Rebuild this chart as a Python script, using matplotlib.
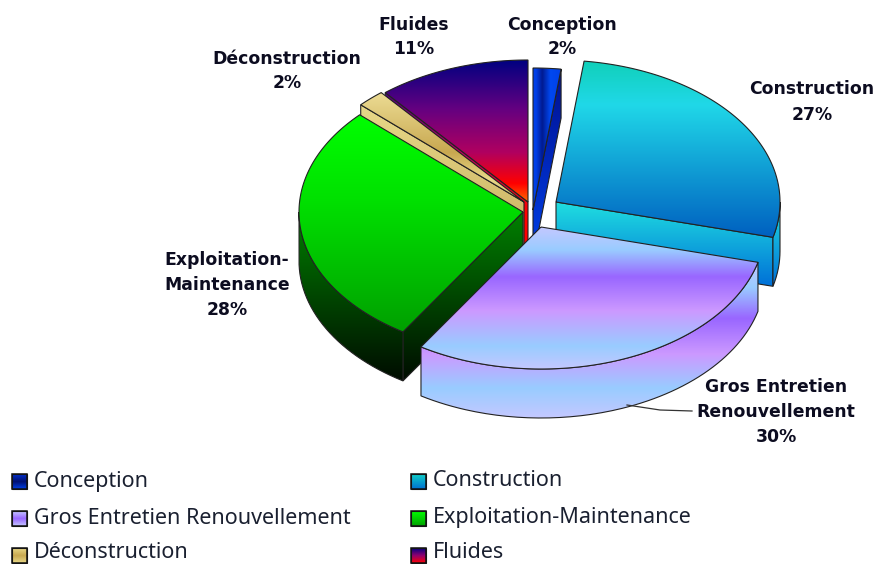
import numpy as np
import matplotlib
matplotlib.use('Agg')
import matplotlib.pyplot as plt
from matplotlib.colors import LinearSegmentedColormap
from matplotlib.patches import PathPatch, Rectangle
from matplotlib.path import Path

# values of the chart
categories = ['Conception', 'Construction', 'Gros Entretien Renouvellement',
              'Exploitation-Maintenance', 'Déconstruction', 'Fluides']
values = [2, 27, 30, 28, 2, 11]
pie_labels = ['Conception\n2%', 'Construction\n27%', 'Gros Entretien\nRenouvellement\n30%',
              'Exploitation-\nMaintenance\n28%', 'Déconstruction\n2%', 'Fluides\n11%']

# layout, all in pixels of the picture
RX, RY, DEPTH = 224, 142, 49
tip_x = [533, 556, 541, 523, 524, 528]
tip_y = [210, 202, 227, 212, 202, 202]
label_xy = [(562, 37), (812, 102), (776, 412), (227, 285), (287, 71), (414, 37)]
draw_order = [5, 4, 0, 1, 3, 2]
legend_text_y = [481, 518, 553]

top_colors = [
    [(0, '#0040e8'), (.1, '#0040e8'), (.32, '#001a90'), (.6, '#0048f0'), (1, '#0040e8')],
    [(0, '#10d0b8'), (.25, '#20d8e8'), (1, '#0060c0')],
    [(0, '#c4c8ff'), (.16, '#99ccff'), (.35, '#9966ff'), (.59, '#cc99ff'), (.84, '#99ccff'), (1, '#c4c8ff')],
    [(0, '#00ff00'), (.4, '#00e000'), (1, '#00a000')],
    [(0, '#ecdc94'), (.55, '#c8a850'), (.8, '#e8d888'), (1, '#d0b868')],
    [(0, '#000080'), (.35, '#660080'), (.65, '#b00060'), (.87, '#ff0000'), (1, '#ff6a00')],
]
wall_colors = [
    [(0, '#001090'), (1, '#0040e8')],
    [(0, '#20e0e0'), (1, '#0070d8')],
    [(0, '#c4c8ff'), (.16, '#99ccff'), (.36, '#9966ff'), (.59, '#cc99ff'), (.81, '#99ccff'), (1, '#c4c8ff')],
    [(0, '#008000'), (1, '#000c00')],
    [(0, '#e8d888'), (1, '#c8b060')],
    [(0, '#500080'), (.4, '#c00060'), (.75, '#ff0000'), (1, '#ff0000')],
]
legend_colors = [
    [(0, '#0030d0'), (.5, '#001070'), (1, '#0040e8')],
    [(0, '#10d0c8'), (1, '#0070d0')],
    [(0, '#c4c8ff'), (.5, '#9966ff'), (1, '#c4c8ff')],
    [(0, '#00ff00'), (1, '#00a000')],
    [(0, '#e8d888'), (.5, '#c8a850'), (1, '#e8d888')],
    [(0, '#000080'), (.5, '#900070'), (1, '#ff0000')],
]

EDGE = '#222222'


def gradient(ax, poly, stops, z, sideways=False):
    # gradient over the box of the polygon, clipped to it
    poly = np.array(poly)
    cmap = LinearSegmentedColormap.from_list('g', stops)
    x0, y0 = poly.min(axis=0)
    x1, y1 = poly.max(axis=0)
    ramp = np.linspace(0, 1, 256).reshape(-1, 1)
    if sideways:
        ramp = ramp.T
    im = ax.imshow(ramp, cmap=cmap, aspect='auto',
                   extent=(x0, x1, y1, y0), origin='upper', zorder=z, interpolation='bilinear')
    patch = PathPatch(Path(np.vstack([poly, poly[0]])), transform=ax.transData,
                      fc='none', ec=EDGE, lw=0.8, zorder=z + 0.5)
    ax.add_patch(patch)
    im.set_clip_path(patch)


def arc(cx, cy, a0, a1):
    t = np.radians(np.linspace(a0, a1, 120))
    return np.column_stack([cx + RX * np.sin(t), cy - RY * np.cos(t)])


fig = plt.figure(figsize=(8.76, 5.64), dpi=100)
ax = fig.add_axes([0, 0, 1, 1])

edges = np.cumsum([0] + values) * 3.6
down = np.array([0, DEPTH])

z = 1
for i in draw_order:
    a0, a1 = edges[i], edges[i + 1]
    tip = np.array([tip_x[i], tip_y[i]], dtype=float)
    rim = arc(tip[0], tip[1], a0, a1)

    # only the walls turned towards the viewer get drawn
    walls = []
    if rim[0][0] < tip[0]:
        walls.append([tip, rim[0], rim[0] + down, tip + down])
    if tip[0] < rim[-1][0]:
        walls.append([rim[-1], tip, tip + down, rim[-1] + down])
    b0, b1 = max(a0, 90), min(a1, 270)
    if b0 < b1:
        front = arc(tip[0], tip[1], b0, b1)
        walls.append(list(front) + list((front + down)[::-1]))

    pts = np.vstack([np.array(w) for w in walls])
    wmin, wmax = pts[:, 1].min(), pts[:, 1].max()
    cmap = LinearSegmentedColormap.from_list('w', wall_colors[i])
    for w in walls:
        w = np.array(w)
        im = ax.imshow(np.linspace(0, 1, 256).reshape(-1, 1), cmap=cmap, aspect='auto',
                       extent=(w[:, 0].min(), w[:, 0].max(), wmax, wmin), origin='upper', zorder=z)
        patch = PathPatch(Path(np.vstack([w, w[0]])), transform=ax.transData,
                          fc='none', ec=EDGE, lw=0.8, zorder=z + 0.5)
        ax.add_patch(patch)
        im.set_clip_path(patch)
        z += 1

    # the thin blue slice is shaded across, not down
    gradient(ax, np.vstack([tip, rim]), top_colors[i], z, sideways=(i == 0))
    z += 1

# leader line of the big slice
ax.plot([627, 660, 692], [405, 410, 411], color='#333333', lw=0.9, zorder=z)

for text, (x, y) in zip(pie_labels, label_xy):
    ax.text(x, y, text, ha='center', va='center', fontsize=12.4, fontweight='bold',
            family='DejaVu Sans', color='#0c0c20', linespacing=1.5, zorder=z + 1)

# legend, two columns
for i, name in enumerate(categories):
    col, row = i % 2, i // 2
    x = [12, 411][col]
    y = [474, 511, 548][row]
    gradient(ax, [(x, y), (x + 15, y), (x + 15, y + 15), (x, y + 15)], legend_colors[i], z + 2)
    ax.add_patch(Rectangle((x, y), 15, 15, fc='none', ec='#111111', lw=1.1, zorder=z + 3))
    ax.text(x + 22, legend_text_y[row], name, ha='left', va='center', fontsize=15.5,
            family='Noto Sans', color='#1a2030', zorder=z + 3)

ax.set_xlim(0, 876)
ax.set_ylim(564, 0)
ax.axis('off')
fig.savefig('out.png', dpi=100)
